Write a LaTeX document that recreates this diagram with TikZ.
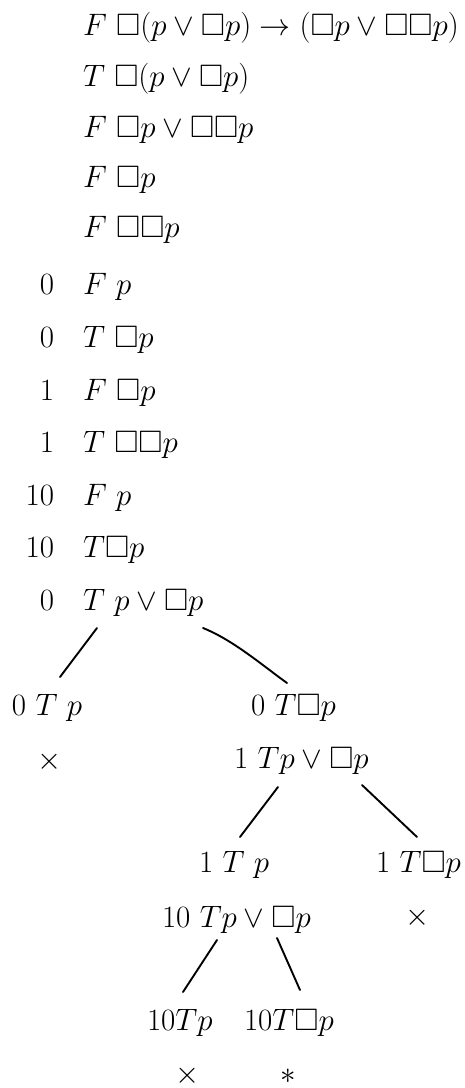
\RequirePackage{fix-cm}
\documentclass[tikz,border=0pt]{standalone}
\usepackage{amssymb}
\begin{document}
\begin{tikzpicture}[x={(1pt,0pt)},y={(0pt,-1pt)},
  txt/.style={anchor=base west,inner sep=0pt,outer sep=0pt,font=\fontsize{31}{37}\selectfont},
  num/.style={anchor=base east,inner sep=0pt,outer sep=0pt,font=\fontsize{31}{37}\selectfont},
  symb/.style={anchor=center,inner sep=0pt,outer sep=0pt,font=\fontsize{31}{37}\selectfont},
  edge/.style={line width=1.9pt,line cap=round}]
\useasboundingbox (0,0) rectangle (465,1088);
% linear part
\node[txt] (f1) at (83,35) {$F\ \Box(p\vee\Box p)\rightarrow(\Box p\vee\Box\Box p)$};
\node[txt] (f2) at (83,86) {$T\ \Box(p\vee\Box p)$};
\node[txt] (f3) at (83,137) {$F\ \Box p\vee\Box\Box p$};
\node[txt] (f4) at (83,187) {$F\ \Box p$};
\node[txt] (f5) at (83,237) {$F\ \Box\Box p$};
\node[num] (n6) at (54,294) {0};
\node[txt] (f6) at (83,294) {$F\ p$};
\node[num] (n7) at (54,347) {0};
\node[txt] (f7) at (83,347) {$T\ \Box p$};
\node[num] (n8) at (54,400) {1};
\node[txt] (f8) at (83,400) {$F\ \Box p$};
\node[num] (n9) at (54,452) {1};
\node[txt] (f9) at (83,452) {$T\ \Box\Box p$};
\node[num] (n10) at (54,505) {10};
\node[txt] (f10) at (83,505) {$F\ p$};
\node[num] (n11) at (54,557) {10};
\node[txt] (f11) at (83,557) {$T\Box p$};
\node[num] (n12) at (54,610) {0};
\node[txt] (f12) at (83,610) {$T\ p\vee\Box p$};
% tree part
\node[txt] (a) at (12,715) {$0\ T\ p$};
\node[txt] (b) at (251,715) {$0\ T\Box p$};
\node[symb] (ax) at (50,762) {$\times$};
\node[txt] (c) at (234,768) {$1\ Tp\vee\Box p$};
\node[txt] (d) at (199,872) {$1\ T\ p$};
\node[txt] (e) at (376,872) {$1\ T\Box p$};
\node[txt] (g) at (162,927) {$10\ Tp\vee\Box p$};
\node[symb] (ex) at (418,918) {$\times$};
\node[txt] (h) at (147,1030) {$10Tp$};
\node[txt] (k) at (244,1030) {$10T\Box p$};
\node[symb] (hx) at (188,1076) {$\times$};
\node[symb] (kx) at (288,1076) {$\ast$};
% connectors
\draw[edge] ([xshift=14pt,yshift=-18pt]f12.base west) -- ([xshift=48pt,yshift=38pt]a.base west);
\draw[edge] ([xshift=120pt,yshift=-18pt]f12.base west) .. controls +(30pt,-12pt) and +(-25pt,18pt) .. ([xshift=36pt,yshift=32pt]b.base west);
\draw[edge] ([xshift=44pt,yshift=-19pt]c.base west) -- ([xshift=41pt,yshift=35pt]d.base west);
\draw[edge] ([xshift=128pt,yshift=-17pt]c.base west) -- ([xshift=41pt,yshift=35pt]e.base west);
\draw[edge] ([xshift=55pt,yshift=-13pt]g.base west) -- ([xshift=36pt,yshift=38pt]h.base west);
\draw[edge] ([xshift=115pt,yshift=-11pt]g.base west) -- ([xshift=56pt,yshift=40pt]k.base west);
\end{tikzpicture}
\end{document}
